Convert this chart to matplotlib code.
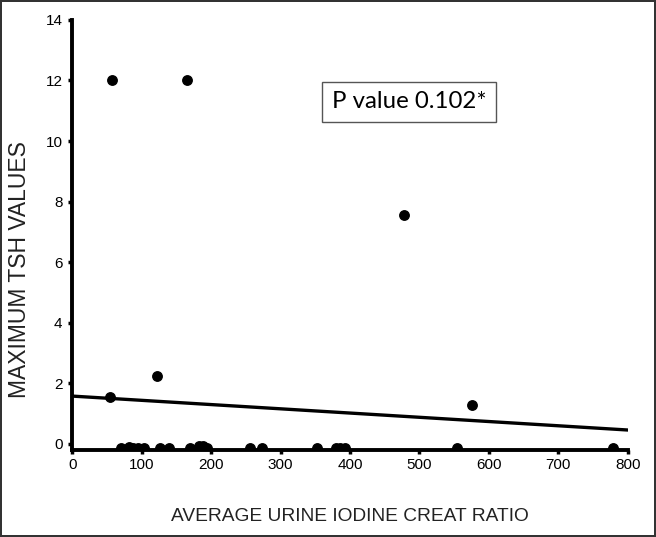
import numpy as np
import matplotlib.pyplot as plt

# Points du nuage (ratio iode/creatinine moyen, TSH max)
iode_haut = [58, 166, 478, 122, 55, 575]
tsh_haut = [12.0, 12.0, 7.55, 2.25, 1.55, 1.3]

# Points colles sur l'axe (TSH ~ 0)
iode_bas = [71, 82, 88, 95, 103, 127, 140, 170, 182, 188, 194, 256, 274, 352, 380, 386, 393, 554, 779]
tsh_bas = [-0.15, -0.1, -0.15, -0.15, -0.15, -0.15, -0.15, -0.12, -0.08, -0.08, -0.12,
           -0.15, -0.12, -0.15, -0.15, -0.15, -0.15, -0.12, -0.12]

# Droite de regression
ordonnee = 1.58
pente = -0.00140

x_ticks = [0, 100, 200, 300, 400, 500, 600, 700, 800]
y_ticks = [0, 2, 4, 6, 8, 10, 12, 14]

fig = plt.figure(figsize=(6.56, 5.37), dpi=100)
fig.patch.set_edgecolor('#333333')
fig.patch.set_linewidth(1.5)
ax = fig.add_axes([0.11, 0.162, 0.847, 0.801])

x = np.array(iode_haut + iode_bas)
y = np.array(tsh_haut + tsh_bas)
ax.plot(x, y, 'o', color='black', markersize=6.8, zorder=3)

xr = np.array([0, 800])
ax.plot(xr, ordonnee + pente * xr, color='black', linewidth=2.4)

ax.set_xlim(0, 800)
ax.set_ylim(-0.2, 14)
ax.set_xticks(x_ticks)
ax.set_yticks(y_ticks)

for s in ['top', 'right']:
    ax.spines[s].set_visible(False)
for s in ['left', 'bottom']:
    ax.spines[s].set_linewidth(2.8)
ax.tick_params(direction='out', length=3, width=2.5, labelsize=11, colors='black', pad=3)
ax.tick_params(axis='y', pad=4)

ax.set_xlabel('AVERAGE URINE IODINE CREAT RATIO', fontsize=13.8, color='#222222',
              family='Liberation Sans', labelpad=26)
ax.set_ylabel('MAXIMUM TSH VALUES', fontsize=16.5, color='#222222',
              family='Liberation Sans', va='center')
# l'etiquette Y est un peu plus basse que le centre de l'axe
ax.yaxis.set_label_coords(-0.094, 0.42)
for lab in ax.get_xticklabels() + ax.get_yticklabels():
    lab.set_family('Liberation Sans')

ax.text(485, 11.3, 'P value 0.102*', fontsize=17.3, family='Lato', ha='center', va='center',
        bbox=dict(boxstyle='square,pad=0.4', facecolor='white', edgecolor='#555555', linewidth=1))

fig.savefig('out.png', dpi=100, edgecolor=fig.get_edgecolor())
